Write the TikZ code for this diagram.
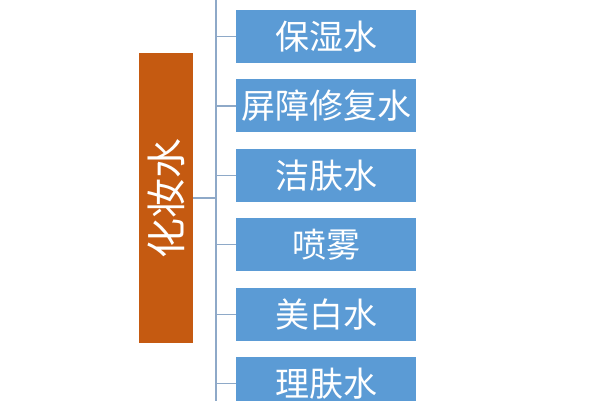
\documentclass[tikz,border=0pt]{standalone}
\usepackage{fontspec}
\newfontfamily\cjk{Noto Sans CJK SC}
\usetikzlibrary{positioning}

\definecolor{itemblue}{HTML}{5B9BD5}
\definecolor{rootorange}{HTML}{C55A11}
\definecolor{linkgray}{HTML}{8EA9C8}

\begin{document}
\begin{tikzpicture}[
    x=1pt, y=-1pt,
    node distance=16pt,
    item/.style = {
      fill=itemblue, text=white, inner sep=0pt,
      minimum width=180pt, minimum height=53pt,
      font=\cjk\fontsize{34}{34}\selectfont
    },
    root/.style = {
      fill=rootorange, text=white, inner sep=0pt, rotate=90,
      minimum width=290pt, minimum height=54pt,
      font=\cjk\fontsize{40}{40}\selectfont
    },
    link/.style = {draw=linkgray, line width=1.2pt}
  ]
  \useasboundingbox (0,0) rectangle (600,400);
  \clip (0,0) rectangle (600,400);

  % root
  \node (toner) [root] at (166,198) {化妆水};

  % items
  \node (moist)  [item] at (326,36.5) {保湿水};
  \node (repair) [item, below=of moist]  {屏障修复水};
  \node (clean)  [item, below=of repair] {洁肤水};
  \node (spray)  [item, below=of clean]  {喷雾};
  \node (white)  [item, below=of spray]  {美白水};
  \node (tone)   [item, below=of white]  {理肤水};

  % trunk
  \coordinate (top)    at (216,-10);
  \coordinate (bottom) at (216,410);
  \coordinate (joint)  at (216,198);
  \draw [link] (top) -- (bottom);
  \draw [link] (toner.south) -- (joint);

  \draw [link] (moist.west)  -- (moist.west  -| top);
  \draw [link] (repair.west) -- (repair.west -| top);
  \draw [link] (clean.west)  -- (clean.west  -| top);
  \draw [link] (spray.west)  -- (spray.west  -| top);
  \draw [link] (white.west)  -- (white.west  -| top);
  \draw [link] (tone.west)   -- (tone.west   -| top);
\end{tikzpicture}
\end{document}
